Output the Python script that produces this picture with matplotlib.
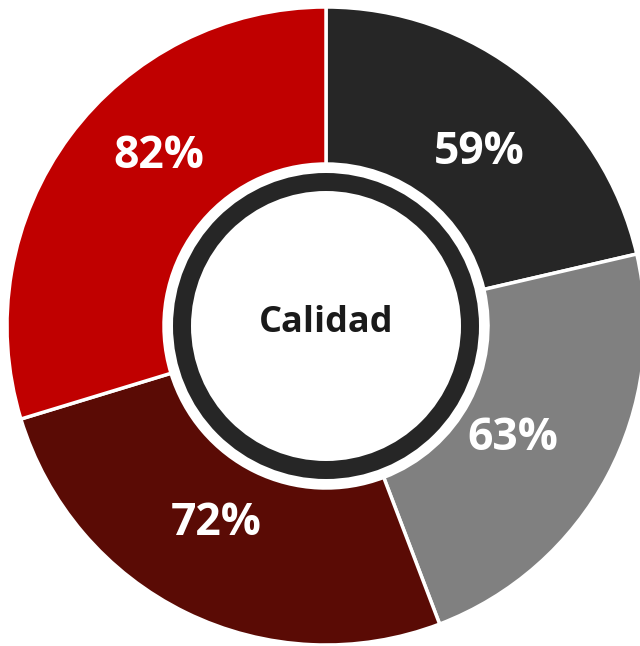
import matplotlib.pyplot as plt
import numpy as np
from matplotlib.patches import Circle

# quality scores per area, clockwise from 12 o'clock
values = [59, 63, 72, 82]
labels = ['59%', '63%', '72%', '82%']
colors = ['#262626', '#808080', '#5a0b05', '#c00000']
center_text = 'Calidad'

# small angular nudges (deg) for the value labels
label_nudge = [-3, -3, -3, -9]
label_radius = [232, 218, 226, 238]

fig = plt.figure(figsize=(6.4, 6.46), dpi=100)
ax = fig.add_axes([0, 0, 1, 1])

cx, cy = 326, 320
R = 319
width = 157

wedges, _ = ax.pie(values, colors=colors, startangle=90, counterclock=False,
                   radius=R, center=(cx, cy), frame=True,
                   wedgeprops=dict(width=width, edgecolor='white', linewidth=2.5))
ax.set_xlim(0, 640)
ax.set_ylim(0, 646)
ax.set_aspect('equal')
ax.axis('off')

# value labels inside each wedge
for w, lab, dn, r in zip(wedges, labels, label_nudge, label_radius):
    ang = np.deg2rad((w.theta1 + w.theta2) / 2 + dn)
    ax.text(cx + r * np.cos(ang), cy + r * np.sin(ang), lab,
            ha='center', va='center', color='white', fontsize=32,
            fontweight='bold', family='Open Sans')

# ring and white disc in the middle
ax.add_patch(Circle((cx, cy), 153, facecolor='#262626', edgecolor='none', zorder=3))
ax.add_patch(Circle((cx, cy), 135, facecolor='white', edgecolor='none', zorder=4))
ax.text(cx, cy + 3, center_text, ha='center', va='center', fontsize=26,
        fontweight='bold', family='Open Sans', color='#1a1a1a', zorder=5)

fig.savefig('out.png', dpi=100)
